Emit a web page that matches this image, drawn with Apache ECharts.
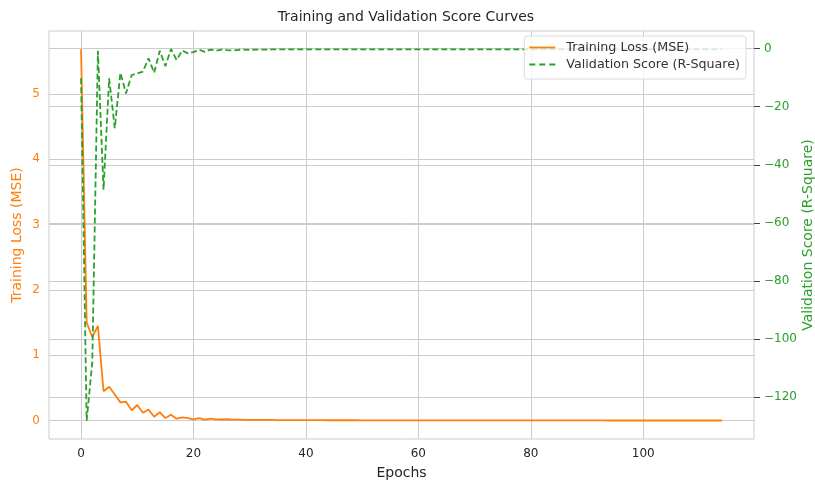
<!DOCTYPE html>
<html>
<head>
<meta charset="utf-8">
<script src="https://cdn.jsdelivr.net/npm/echarts@6/dist/echarts.min.js"></script>
<style>
  html, body { margin: 0; padding: 0; background: #ffffff; }
  #chart { width: 815px; height: 485px; }
</style>
</head>
<body>
<div id="chart"></div>
<script>
// Per-epoch training loss (MSE), epochs 0..114
const trainingLoss = [
  5.68, 1.50, 1.28, 1.45, 0.45, 0.52, 0.40, 0.28, 0.29, 0.16,
  0.24, 0.12, 0.17, 0.06, 0.13, 0.04, 0.09, 0.03, 0.05, 0.04,
  0.02, 0.04, 0.015, 0.03, 0.02, 0.018, 0.022, 0.016, 0.015, 0.014,
  0.013, 0.012, 0.012, 0.011, 0.011, 0.010, 0.010, 0.009, 0.009, 0.009,
  0.008, 0.008, 0.008, 0.008, 0.007, 0.007, 0.007, 0.007, 0.007, 0.007,
  0.006, 0.006, 0.006, 0.006, 0.006, 0.006, 0.006, 0.006, 0.005, 0.005,
  0.005, 0.005, 0.005, 0.005, 0.005, 0.005, 0.005, 0.005, 0.005, 0.005,
  0.005, 0.005, 0.004, 0.004, 0.004, 0.004, 0.004, 0.004, 0.004, 0.004,
  0.004, 0.004, 0.004, 0.004, 0.004, 0.004, 0.004, 0.004, 0.004, 0.004,
  0.004, 0.004, 0.004, 0.004, 0.003, 0.003, 0.003, 0.003, 0.003, 0.003,
  0.003, 0.003, 0.003, 0.003, 0.003, 0.003, 0.003, 0.003, 0.003, 0.003,
  0.003, 0.003, 0.003, 0.003, 0.003
];

// Per-epoch validation score (R-Square), epochs 0..114
const validationScore = [
  -10.2, -128.2, -108.0, -0.7, -48.6, -10.2, -27.4, -8.3, -15.4, -9.1,
  -8.5, -7.9, -3.3, -8.3, -0.7, -6.0, -0.1, -3.9, -0.6, -1.6,
  -1.2, -0.3, -1.1, -0.3, -0.7, -0.3, -0.5, -0.6, -0.4, -0.3,
  -0.4, -0.3, -0.3, -0.3, -0.25, -0.25, -0.25, -0.25, -0.2, -0.2,
  -0.2, -0.2, -0.2, -0.2, -0.2, -0.2, -0.2, -0.2, -0.2, -0.2,
  -0.2, -0.2, -0.2, -0.2, -0.2, -0.2, -0.2, -0.2, -0.2, -0.2,
  -0.2, -0.2, -0.2, -0.2, -0.2, -0.2, -0.2, -0.2, -0.2, -0.2,
  -0.2, -0.2, -0.2, -0.2, -0.2, -0.2, -0.2, -0.2, -0.2, -0.2,
  -0.2, -0.2, -0.2, -0.2, -0.2, -0.2, -0.2, -0.2, -0.2, -0.2,
  -0.2, -0.2, -0.2, -0.2, -0.2, -0.2, -0.2, -0.2, -0.2, -0.2,
  -0.2, -0.2, -0.2, -0.2, -0.2, -0.2, -0.2, -0.2, -0.2, -0.2,
  -0.2, -0.2, -0.2, -0.2, -0.2
];

const epochTicks = [0, 20, 40, 60, 80, 100];
const lossTicks = [0, 1, 2, 3, 4, 5];
const scoreTicks = [0, -20, -40, -60, -80, -100, -120];

const ORANGE = '#ff7f0e';
const GREEN = '#2ca02c';
const INK = '#262626';
const GRID = '#cccccc';
const FONT = 'DejaVu Sans';

// legend swatches: a solid bar and a three-dash bar
const SOLID_ICON = 'path://M0,0h26v1.8h-26z';
const DASHED_ICON = 'path://M0,0h6v1.8h-6zM10,0h6v1.8h-6zM20,0h6v1.8h-6z';

const lossData = trainingLoss.map((v, i) => [i, v]);
const scoreData = validationScore.map((v, i) => [i, v]);

const minusFmt = v => String(v).replace('-', '\u2212');

const chart = echarts.init(document.getElementById('chart'), null, { renderer: 'canvas' });

chart.setOption({
  animation: false,
  backgroundColor: '#ffffff',
  textStyle: { fontFamily: FONT },
  title: {
    text: 'Training and Validation Score Curves',
    left: 401, top: 5, textAlign: 'center',
    textStyle: { fontFamily: FONT, fontSize: 14, fontWeight: 'normal', color: INK }
  },
  grid: {
    left: 49, right: 61, top: 31, bottom: 46,
    outerBoundsMode: 'none', containLabel: false,
    show: true, borderColor: GRID, borderWidth: 1, backgroundColor: 'transparent'
  },
  legend: {
    right: 69, top: 36, orient: 'vertical', align: 'left',
    padding: [5, 6, 8, 5], itemGap: 4, itemWidth: 26, itemHeight: 1.8,
    symbolKeepAspect: false,
    backgroundColor: 'rgba(255,255,255,0.8)', borderColor: '#dcdcdc', borderWidth: 1, borderRadius: 3,
    textStyle: { fontFamily: FONT, fontSize: 12.7, color: '#333333', padding: [0, 0, 0, 6] },
    data: [
      { name: 'Training Loss (MSE)', icon: SOLID_ICON, itemStyle: { color: ORANGE } },
      { name: 'Validation Score (R-Square)', icon: DASHED_ICON, itemStyle: { color: GREEN } }
    ]
  },
  xAxis: {
    type: 'value', min: -5.7, max: 119.7,
    name: 'Epochs', nameLocation: 'middle', nameGap: 27,
    nameTextStyle: { fontFamily: FONT, fontSize: 14, color: INK },
    axisLine: { show: false },
    axisTick: { show: false, customValues: epochTicks },
    axisLabel: { customValues: epochTicks, fontFamily: FONT, fontSize: 12, color: INK, margin: 9 },
    splitLine: { show: true, lineStyle: { color: GRID, width: 1 } }
  },
  yAxis: [
    {
      type: 'value', position: 'left', min: -0.28, max: 5.96,
      name: 'Training Loss (MSE)', nameLocation: 'middle', nameGap: 25, nameMoveOverlap: false,
      nameTextStyle: { fontFamily: FONT, fontSize: 14, color: ORANGE },
      axisLine: { show: false },
      axisTick: { show: false, customValues: lossTicks },
      axisLabel: { customValues: lossTicks, fontFamily: FONT, fontSize: 12, color: ORANGE, margin: 9 },
      splitLine: { show: true, lineStyle: { color: GRID, width: 1 } }
    },
    {
      type: 'value', position: 'right', min: -134.5, max: 6.1,
      name: 'Validation Score (R-Square)', nameLocation: 'middle', nameGap: 47, nameMoveOverlap: false,
      nameTextStyle: { fontFamily: FONT, fontSize: 14, color: GREEN },
      axisLine: { show: false },
      axisTick: { show: true, customValues: scoreTicks, length: 6, inside: false, lineStyle: { color: '#444444', width: 1 } },
      axisLabel: { customValues: scoreTicks, formatter: minusFmt, fontFamily: FONT, fontSize: 12, color: GREEN, margin: 10 },
      splitLine: { show: true, lineStyle: { color: GRID, width: 1 } }
    }
  ],
  series: [
    {
      name: 'Training Loss (MSE)', type: 'line', yAxisIndex: 0,
      data: lossData, symbol: 'none', showSymbol: false, smooth: false,
      itemStyle: { color: ORANGE },
      lineStyle: { color: ORANGE, width: 1.8 },
      z: 3
    },
    {
      name: 'Validation Score (R-Square)', type: 'line', yAxisIndex: 1,
      data: scoreData, symbol: 'none', showSymbol: false, smooth: false,
      itemStyle: { color: GREEN },
      lineStyle: { color: GREEN, width: 1.8, type: [6, 3] },
      z: 3
    }
  ]
});
</script>
</body>
</html>
